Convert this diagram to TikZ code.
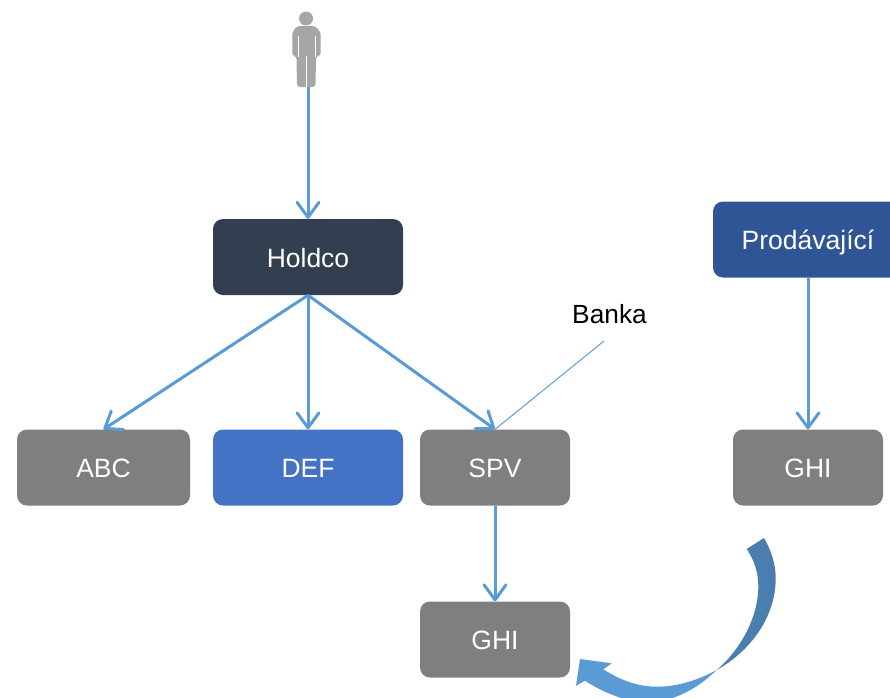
\documentclass[tikz,border=0pt]{standalone}
\usepackage{fontspec}
\setmainfont{Liberation Sans}
\usetikzlibrary{arrows.meta}
\definecolor{lineblue}{HTML}{5B9BD5}
\definecolor{darkcurve}{HTML}{4A7EAE}
\definecolor{boxgrey}{HTML}{7F7F7F}
\definecolor{boxnavy}{HTML}{333F50}
\definecolor{boxblue}{HTML}{4472C4}
\definecolor{boxroyal}{HTML}{2F5597}
\definecolor{persongrey}{HTML}{A6A6A6}
\tikzset{
  orgbox/.style={rounded corners=10pt,text=white,font=\fontsize{26.5}{30}\selectfont,inner sep=0pt,anchor=center,text depth=0pt,text height=20pt},
  link/.style={draw=lineblue,line width=3pt,-{Straight Barb[length=15pt,width=22pt,line width=3pt,round]}},
}
\begin{document}
\begin{tikzpicture}[x=1pt,y=-1pt]
\useasboundingbox (0,0) rectangle (890,697);
% person
\fill[persongrey] (306,18.5) circle (7);
\fill[persongrey,rounded corners=3pt] (297,26) -- (315,26) -- (320.7,32) -- (320.7,56) -- (316,56) -- (315.5,87) -- (297,87) -- (296.5,56) -- (292.3,56) -- (292.3,32) -- cycle;
\draw[white,line width=1.4pt] (298.2,36) -- (298.2,57) (315.2,36) -- (315.2,57) (306.2,56) -- (306.2,88);
\coordinate (person) at (308,87);
% boxes
\node[orgbox,fill=boxnavy,minimum width=190pt,minimum height=76pt] (holdco) at (308,257) {Holdco};
\node[orgbox,fill=boxroyal,minimum width=190pt,minimum height=76pt] (seller) at (808,239.5) {Prodávající};
\node[orgbox,fill=boxgrey,minimum width=173pt,minimum height=76pt] (abc) at (103.5,467.5) {ABC};
\node[orgbox,fill=boxblue,minimum width=190pt,minimum height=76pt] (def) at (308,467.5) {DEF};
\node[orgbox,fill=boxgrey,minimum width=150pt,minimum height=76pt] (spv) at (495,467.5) {SPV};
\node[orgbox,fill=boxgrey,minimum width=150pt,minimum height=76pt] (ghir) at (808,467.5) {GHI};
\node[orgbox,fill=boxgrey,minimum width=150pt,minimum height=76pt] (ghi) at (495,639.5) {GHI};
\node[font=\fontsize{26.3}{30}\selectfont,inner sep=0pt] (banka) at (609.5,314) {Banka};
\coordinate (bankaend) at (604,341);
% connectors
\draw[link] (person) -- (holdco.north);
\draw[link] (holdco.south) -- (abc.north);
\draw[link] (holdco.south) -- (def.north);
\draw[link] (holdco.south) -- (spv.north);
\draw[link] (seller.south) -- (ghir.north);
\draw[link] (spv.south) -- (ghi.north);
\draw[draw=lineblue,line width=1pt] (bankaend) -- (spv.north);
% curved arrow
\fill[darkcurve] (764,538) .. controls (771,550) and (775.7,564) .. (775.7,578)
  .. controls (775.7,616) and (752,650) .. (716.7,670)
  .. controls (740,650) and (758.3,618) .. (758.3,586)
  .. controls (758.3,572) and (754,560) .. (746.7,549) -- cycle;
\fill[lineblue] (716.7,670) .. controls (696,690) and (672,702) .. (648,702) .. controls (626,702) and (604,693) .. (585,680.7)
  -- (576,685.7) -- (580,659) -- (611.7,663.3) -- (603.3,669.3)
  .. controls (620,680) and (638,686.7) .. (656.7,686.7) .. controls (678,686.7) and (698,680) .. (716.7,670) -- cycle;
\end{tikzpicture}
\end{document}
